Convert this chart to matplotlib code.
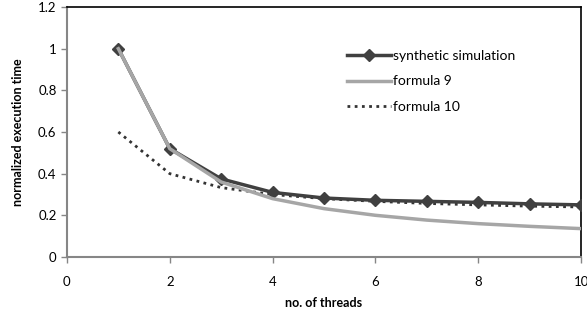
import numpy as np
import matplotlib.pyplot as plt

threads = [1, 2, 3, 4, 5, 6, 7, 8, 9, 10]
synthetic = [1.0, 0.52, 0.375, 0.31, 0.283, 0.272, 0.267, 0.262, 0.255, 0.25]
formula9 = [1.0, 0.52, 0.36, 0.28, 0.232, 0.2, 0.177, 0.16, 0.147, 0.136]
formula10 = [0.6, 0.4, 0.333, 0.3, 0.28, 0.267, 0.257, 0.25, 0.244, 0.24]

plt.rcParams['font.family'] = ['Lato', 'DejaVu Sans']

fig = plt.figure(figsize=(5.87, 3.2), dpi=100)
ax = fig.add_axes([0.114, 0.197, 0.876, 0.781])

ax.plot(threads, formula10, color='#333333', lw=2, linestyle=(0, (1, 1.6)), label='formula 10', zorder=2)
ax.plot(threads, synthetic, color='#404040', lw=2.5, marker='D', markersize=6,
        label='synthetic simulation', zorder=3)
ax.plot(threads, formula9, color='#a6a6a6', lw=2.5, label='formula 9', zorder=4)

ax.set_xlim(0, 10)
ax.set_ylim(0, 1.2)
ax.set_xticks([0, 2, 4, 6, 8, 10])
ax.set_yticks([0, 0.2, 0.4, 0.6, 0.8, 1, 1.2])
ax.set_yticklabels(['0', '0.2', '0.4', '0.6', '0.8', '1', '1.2'])
ax.tick_params(labelsize=9.5, color='#868686', length=4, width=1)
ax.tick_params(axis='x', pad=10)

for s in ['left', 'bottom']:
    ax.spines[s].set_color('#868686')
    ax.spines[s].set_linewidth(1.5)
for s in ['top', 'right']:
    ax.spines[s].set_color('black')
    ax.spines[s].set_linewidth(1.2)

ax.set_xlabel('no. of threads', fontsize=9, fontweight='bold', labelpad=6)
ax.set_ylabel('normalized execution time', fontsize=9, fontweight='bold', labelpad=10)

h, l = ax.get_legend_handles_labels()
order = [1, 2, 0]
ax.legend([h[i] for i in order], [l[i] for i in order], loc='upper left',
          bbox_to_anchor=(0.52, 0.88), frameon=False,
          fontsize=10, handlelength=3.2, handletextpad=0.1, labelspacing=1.0)

fig.savefig('out.png', dpi=100)
